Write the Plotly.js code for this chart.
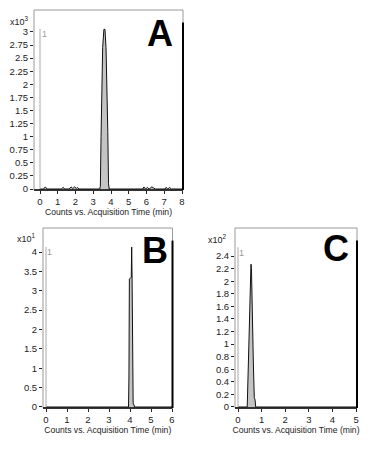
<!DOCTYPE html>
<html><head><meta charset="utf-8">
<script src="https://cdn.plot.ly/plotly-3.0.1.min.js"></script>
<style>html,body{margin:0;padding:0;background:#fff}#chart{width:373px;height:460px}</style>
</head><body><div id="chart"></div>
<script>
// Panel A chromatogram (x10^3 counts)
const aTime   = [0, 0.2, 0.3, 0.4, 1.2, 1.3, 1.4, 1.65, 1.75, 1.85, 1.95, 2.05, 2.1, 2.2, 3.36, 3.4, 3.44, 3.49, 3.53, 3.6, 3.66, 3.72, 3.78, 3.82, 3.86, 3.9, 5.8, 5.85, 5.95, 6.05, 6.15, 6.3, 6.4, 6.5, 7.05, 7.1, 7.2, 7.3, 7.4, 8];
const aCounts = [0, 0, 0.04, 0, 0, 0.03, 0, 0, 0.04, 0.01, 0.04, 0.01, 0.03, 0, 0, 0.05, 1.0, 1.9, 2.7, 3.05, 3.05, 2.7, 2.0, 1.1, 0.1, 0, 0, 0.04, 0, 0.03, 0, 0.04, 0.02, 0, 0, 0.03, 0, 0.03, 0, 0];
// Panel B chromatogram (x10^1 counts)
const bTime   = [0, 3.93, 3.95, 3.97, 4.06, 4.08, 4.1, 4.12, 4.15, 4.19, 4.22, 6];
const bCounts = [0, 0, 0.8, 3.3, 3.35, 4.13, 3.3, 1.47, 0.1, 0.05, 0, 0];
// Panel C chromatogram (x10^2 counts)
const cTime   = [0, 0.39, 0.44, 0.48, 0.51, 0.55, 0.57, 0.6, 0.65, 0.69, 0.72, 0.75, 5];
const cCounts = [0, 0, 0.7, 1.46, 1.9, 2.27, 2.2, 1.46, 0.7, 0.15, 0.12, 0, 0];

const aYTicks = [0, 0.25, 0.5, 0.75, 1, 1.25, 1.5, 1.75, 2, 2.25, 2.5, 2.75, 3];
const aYLabels = ['0', '0.25', '0.5', '0.75', '1', '1.25', '1.5', '1.75', '2', '2.25', '2.5', '2.75', '3'];
const bYTicks = [0, 0.5, 1, 1.5, 2, 2.5, 3, 3.5, 4];
const cYTicks = [0, 0.2, 0.4, 0.6, 0.8, 1, 1.2, 1.4, 1.6, 1.8, 2, 2.2, 2.4];
const cYLabels = ['0', '0.2', '0.4', '0.6', '0.8', '1', '1.2', '1.4', '1.6', '1.8', '2', '2.2', '2.4'];
const xTitle = 'Counts vs. Acquisition Time (min)';
const panelLetters = ['A', 'B', 'C'];
const multipliers = ['x10<sup>3</sup>', 'x10<sup>1</sup>', 'x10<sup>2</sup>'];
const markerTops = [3.06, 4.13, 2.54];

const W = 373, H = 460;
const FONT = 'Liberation Sans, Arial, sans-serif';
const fx = p => p / W, fy = p => 1 - p / H;

function trace(x, y, xa, ya) {
  return {x: x, y: y, xaxis: xa, yaxis: ya, type: 'scatter', mode: 'lines',
    line: {color: '#111', width: 1}, fill: 'tozeroy', fillcolor: '#c4c4c4', hoverinfo: 'skip'};
}
const data = [trace(aTime, aCounts, 'x', 'y'), trace(bTime, bCounts, 'x2', 'y2'), trace(cTime, cCounts, 'x3', 'y3')];

const tickFont = {family: FONT, size: 9.5, color: '#222'};
function xax(dom, range, dtick, anchor) {
  return {domain: dom, range: range, anchor: anchor, tickmode: 'linear', tick0: 0, dtick: dtick,
    ticks: 'outside', ticklen: 3, tickcolor: '#222', showgrid: false, zeroline: false, showline: false,
    tickfont: tickFont, fixedrange: true,
    title: {text: xTitle, font: {family: FONT, size: 8.6, color: '#222'}, standoff: 2}};
}
function yax(dom, range, vals, labels, anchor) {
  return {domain: dom, range: range, anchor: anchor, tickmode: 'array', tickvals: vals, ticktext: labels,
    ticks: 'outside', ticklen: 3, tickcolor: '#222', showgrid: false, zeroline: false, showline: false,
    tickfont: tickFont, fixedrange: true};
}

const shapes = [];
const subs = [['x', 'y'], ['x2', 'y2'], ['x3', 'y3']];
subs.forEach((s, i) => {
  shapes.push({type: 'rect', xref: s[0] + ' domain', yref: s[1] + ' domain', x0: 0, x1: 1, y0: 0, y1: 1,
    line: {color: '#999', width: 1}});
  shapes.push({type: 'line', xref: s[0] + ' domain', yref: s[1] + ' domain', x0: 1, x1: 1, y0: 0, y1: 0.93,
    line: {color: '#000', width: 2}});
  shapes.push({type: 'line', xref: s[0] + ' domain', yref: s[1] + ' domain', x0: 0, x1: 1, y0: 0, y1: 0,
    line: {color: '#000', width: 1.5}});
  shapes.push({type: 'line', xref: s[0], yref: s[1], x0: 0, x1: 0, y0: 0, y1: markerTops[i],
    line: {color: '#aaa', width: 1}});
});

const annotations = [
  {text: panelLetters[0], x: fx(160), y: fy(33)},
  {text: panelLetters[1], x: fx(155), y: fy(251)},
  {text: panelLetters[2], x: fx(336), y: fy(248)}
].map(a => Object.assign(a, {xref: 'paper', yref: 'paper', xanchor: 'center', yanchor: 'middle', showarrow: false,
  font: {family: FONT, size: 36, color: '#000', weight: 'bold'}}));

[[fx(19), fy(21)], [fx(26), fy(238)], [fx(217), fy(239)]].forEach((p, i) => {
  annotations.push({text: multipliers[i], x: p[0], y: p[1], xref: 'paper', yref: 'paper', xanchor: 'center', yanchor: 'middle',
    showarrow: false, font: {family: FONT, size: 9, color: '#222'}});
});
[[fx(44), fy(34)], [fx(49), fy(252)], [fx(241), fy(253)]].forEach(p => {
  annotations.push({text: '1', x: p[0], y: p[1], xref: 'paper', yref: 'paper', xanchor: 'center', yanchor: 'middle',
    showarrow: false, font: {family: FONT, size: 9, color: '#999'}});
});

const layout = {
  width: W, height: H, margin: {l: 0, r: 0, t: 0, b: 0}, showlegend: false,
  paper_bgcolor: '#fff', plot_bgcolor: '#fff',
  xaxis: xax([fx(34), fx(183)], [-0.338, 8.056], 1, 'y'),
  yaxis: yax([fy(190), fy(10)], [-0.019, 3.42], aYTicks, aYLabels, 'x'),
  xaxis2: xax([fx(43), fx(172.5)], [-0.143, 6.024], 1, 'y2'),
  yaxis2: yax([fy(408), fy(228)], [-0.026, 4.62], bYTicks, bYTicks.map(String), 'x2'),
  xaxis3: xax([fx(235), fx(357)], [-0.127, 5.04], 1, 'y3'),
  yaxis3: yax([fy(408), fy(228)], [-0.016, 2.846], cYTicks, cYLabels, 'x3'),
  shapes: shapes, annotations: annotations
};
Plotly.newPlot('chart', data, layout, {staticPlot: true, displayModeBar: false});
</script></body></html>
